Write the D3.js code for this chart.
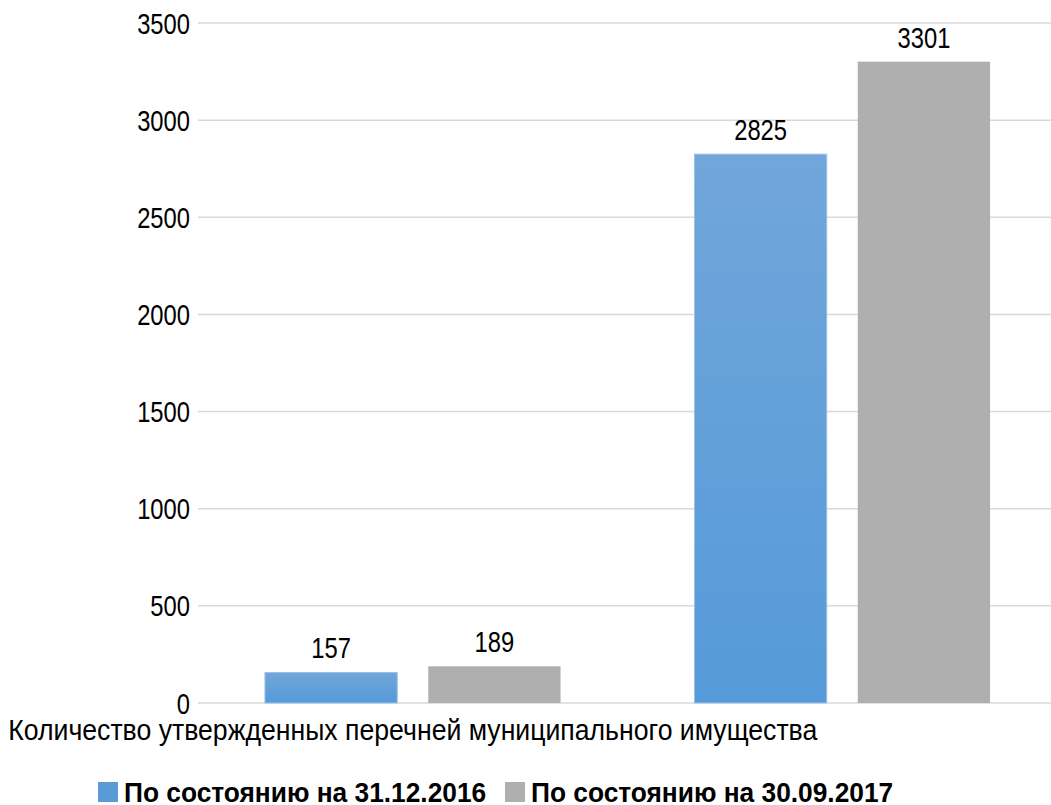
<!DOCTYPE html>
<html>
<head>
<meta charset="utf-8">
<script src="https://cdn.jsdelivr.net/npm/d3@7"></script>
<style>
  body { margin: 0; background: #fff; }
  text { font-family: "Liberation Sans", Arial, sans-serif; }
</style>
</head>
<body>
<svg id="chart" width="1051" height="805"></svg>
<script>
// data
var categories = ["Количество утвержденных перечней муниципального имущества", ""];
var seriesNames = ["По состоянию на 31.12.2016", "По состоянию на 30.09.2017"];
var series2016 = [157, 2825];
var series2017 = [189, 3301];
var yTicks = [0, 500, 1000, 1500, 2000, 2500, 3000, 3500];

var width = 1051, height = 805,
    plotLeft = 198, plotRight = 1057, plotTop = 23, plotBottom = 703;

var svg = d3.select("#chart");

// narrow look: squeeze text horizontally
function place(x, y, sx) {
  return "translate(" + x + "," + y + ") scale(" + sx + ",1)";
}

var defs = svg.append("defs");
var grad = defs.append("linearGradient")
    .attr("id", "blueGrad")
    .attr("x1", 0).attr("y1", 0).attr("x2", 0).attr("y2", 1);
grad.append("stop").attr("offset", "0%").attr("stop-color", "#71a6da");
grad.append("stop").attr("offset", "100%").attr("stop-color", "#559ad9");

var y = d3.scaleLinear().domain([0, 3500]).range([plotBottom, plotTop]);

var x0 = d3.scaleBand()
    .domain(d3.range(categories.length))
    .range([plotLeft, plotRight]);

var x1 = d3.scaleBand()
    .domain([0, 1])
    .range([0, x0.bandwidth()])
    .paddingInner(0.19)
    .paddingOuter(0.41);

// gridlines
svg.append("g")
  .selectAll("line")
  .data(yTicks)
  .enter()
  .append("line")
  .attr("x1", plotLeft)
  .attr("x2", width)
  .attr("y1", function(d) { return y(d); })
  .attr("y2", function(d) { return y(d); })
  .attr("stroke", "#d9d9d9")
  .attr("stroke-width", 1.5);

// y axis labels
svg.append("g")
  .selectAll("text")
  .data(yTicks)
  .enter()
  .append("text")
  .attr("transform", function(d) { return place(190, y(d) + 10.5, 0.82); })
  .attr("text-anchor", "end")
  .attr("font-size", 29)
  .attr("fill", "#000")
  .text(function(d) { return d; });

var colors = ["url(#blueGrad)", "#afafaf"];
var strokes = ["#9dc1e6", "none"];
var allSeries = [series2016, series2017];

allSeries.forEach(function(values, s) {
  var g = svg.append("g");
  g.selectAll("rect")
    .data(values)
    .enter()
    .append("rect")
    .attr("x", function(d, i) { return x0(i) + x1(s); })
    .attr("y", function(d) { return y(d); })
    .attr("width", x1.bandwidth())
    .attr("height", function(d) { return y(0) - y(d); })
    .attr("fill", colors[s])
    .attr("stroke", strokes[s])
    .attr("stroke-width", 1);

  g.selectAll("text")
    .data(values)
    .enter()
    .append("text")
    .attr("transform", function(d, i) {
      return place(x0(i) + x1(s) + x1.bandwidth() / 2, y(d) - 14, 0.82);
    })
    .attr("text-anchor", "middle")
    .attr("font-size", 29)
    .attr("fill", "#000")
    .text(function(d) { return d; });
});

// category labels
svg.append("g")
  .selectAll("text")
  .data(categories)
  .enter()
  .append("text")
  .attr("transform", function(d, i) { return place(x0(i) + x0.bandwidth() / 2, 740, 0.888); })
  .attr("text-anchor", "middle")
  .attr("font-size", 30)
  .attr("fill", "#000")
  .text(function(d) { return d; });

// legend
var legendX = [98, 505];
var legendFill = ["#5b9bd5", "#afafaf"];
var legend = svg.append("g")
  .selectAll("g")
  .data(seriesNames)
  .enter()
  .append("g")
  .attr("transform", function(d, i) { return "translate(" + legendX[i] + ",782)"; });

legend.append("rect")
  .attr("width", 20)
  .attr("height", 20)
  .attr("fill", function(d, i) { return legendFill[i]; });

legend.append("text")
  .attr("transform", place(26, 20, 0.94))
  .attr("font-size", 28)
  .attr("font-weight", "bold")
  .attr("fill", "#000")
  .text(function(d) { return d; });
</script>
</body>
</html>
